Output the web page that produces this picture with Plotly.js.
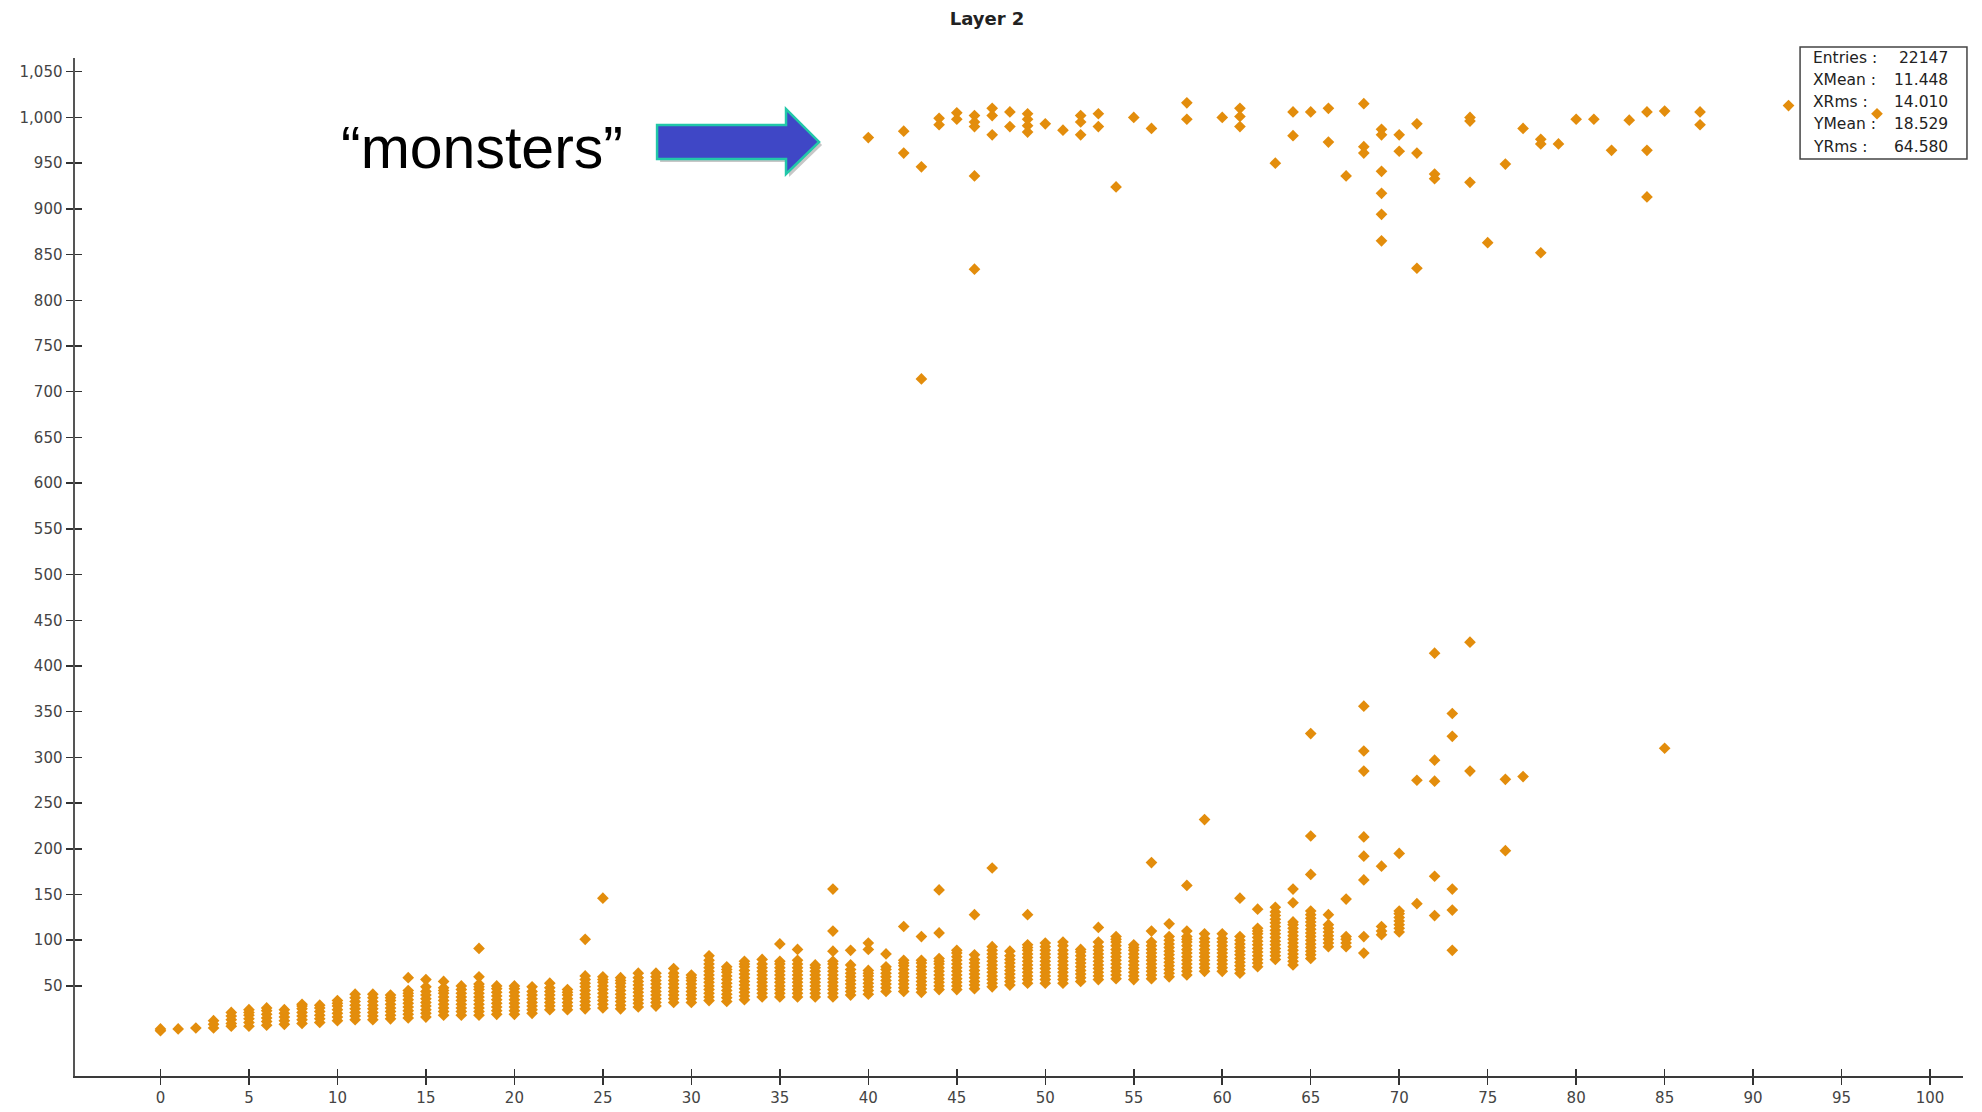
<!DOCTYPE html>
<html>
<head>
<meta charset="utf-8">
<script src="https://cdn.plot.ly/plotly-3.0.1.min.js"></script>
<style>
  html, body { margin: 0; padding: 0; background: #ffffff; }
  #chart { width: 1982px; height: 1112px; }
</style>
</head>
<body>
<div id="chart"></div>
<script>
// Layer 2 hits: channel number (x) against recorded amplitude (y).

// Main band: one list of amplitudes per channel.
const bandChannels = [0,1,2,3,4,5,6,7,8,9,10,11,12,13,14,15,16,17,18,19,20,21,22,23,24,25,26,27,28,29,
  30,31,32,33,34,35,36,37,38,39,40,41,42,43,44,45,46,47,48,49,50,51,52,53,54,55,56,57,58,59,
  60,61,62,63,64,65,66,67,68,69,70,71,72,73,74,76,77,85];
const bandAmplitudes = [
  [1,3],[3],[4],[4,8,12],[6,9,13,17,21],[6,10,14,18,21,24],[7,11,15,19,23,26],[8,12,16,20,24],
  [9,13,17,21,25,28,30],[10,14,18,22,26,29],[12,16,20,24,28,31,34],[13,17,21,25,29,33,37,41],
  [13,17,21,25,29,33,37,41],[14,18,22,26,30,34,37,40],[15,19,23,27,31,35,39,42,45,59],
  [16,20,24,28,32,36,40,44,49,57],[18,22,26,30,34,38,42,45,48,55],[18,22,26,30,34,38,42,46,50],
  [18,22,26,30,34,38,42,46,49,52,60,91],[19,23,27,31,35,39,43,47,50],[19,23,27,31,35,39,43,47,50],
  [20,24,28,32,36,40,44,49],[24,28,32,36,40,44,48,53],[24,28,32,36,40,43,46],
  [25,29,33,37,41,45,49,53,57,61,101],[26,30,34,38,42,46,50,54,57,60,146],
  [25,29,33,37,41,45,49,53,56,59],[27,31,35,39,43,47,51,55,59,64],[28,32,36,40,44,48,52,56,60,64],
  [32,36,40,44,48,52,56,60,64,69],[32,36,40,44,48,52,56,59,62],
  [34,38,42,46,50,54,58,62,66,70,74,78,83],[33,37,41,45,49,53,57,61,65,68,71],
  [35,39,43,47,51,55,59,63,67,71,74,77],[38,42,46,50,54,58,62,66,70,74,79],
  [38,42,46,50,54,58,62,66,70,74,77,96],[38,42,46,50,54,58,62,66,70,74,78,90],
  [38,42,46,50,54,58,62,66,70,73],[38,42,46,50,54,58,62,66,70,74,77,88,110,156],
  [40,44,48,52,56,60,64,68,73,89],[41,45,49,53,57,61,64,67,90,97],[44,48,52,56,60,64,68,71,85],
  [44,48,52,56,60,64,68,72,75,78,115],[43,47,51,55,59,63,67,71,75,78,104],
  [46,50,54,58,62,66,70,74,77,80,108,155],[46,50,54,58,62,66,70,74,78,82,86,89],
  [47,51,55,59,63,67,71,75,79,84,128],[49,53,57,61,65,69,73,77,81,85,89,93,179],
  [51,55,59,63,67,71,75,79,83,88],[53,57,61,65,69,73,77,81,85,89,92,95,128],
  [53,57,61,65,69,73,77,81,85,89,93,97],[53,57,61,65,69,73,77,81,85,89,94,98],
  [55,59,63,67,71,75,79,83,87,90],[57,61,65,69,73,77,81,85,89,93,98,114],
  [58,62,66,70,74,78,82,86,90,94,98,101,104],[57,61,65,69,73,77,81,85,89,92,95],
  [58,62,66,70,74,78,82,86,90,94,98,110,185],[60,64,68,72,76,80,84,88,92,96,100,104,118],
  [62,66,70,74,78,82,86,90,94,98,101,104,110,160],[66,70,74,78,82,86,90,94,98,102,107,232],
  [66,70,74,78,82,86,90,94,98,102,107],[64,68,72,76,80,84,88,92,96,100,104,146],
  [71,75,79,83,87,91,95,99,103,107,110,113,134],
  [79,83,87,91,95,99,103,107,111,115,119,123,127,131,136],
  [73,77,81,85,89,93,97,101,105,109,113,117,120,141,156],
  [80,84,88,92,96,100,104,108,112,116,120,124,128,132,172,214,326],
  [93,97,101,105,109,113,117,128],[93,97,101,104,145],[86,104,166,192,213,285,307,356],
  [106,110,115,181],[109,113,117,121,125,129,132,195],[140,275],[127,170,274,297,414],
  [89,133,156,323,348],[285,426],[198,276],[279],[310]
];

// Saturated hits near the top of the range.
const monsterChannels = [40,42,43,44,45,46,47,48,49,50,51,52,53,54,55,56,58,60,61,63,64,65,66,67,68,
  69,70,71,72,74,75,76,77,78,79,80,81,82,83,84,85,87,92,97];
const monsterAmplitudes = [
  [978],[985,961],[946,714],[999,992],[1005,998],[1002,995,990,936,834],[1010,1002,981],[1006,990],
  [1004,998,991,984],[993],[986],[1002,995,981],[1004,990],[924],[1000],[988],[1016,998],[1000],
  [1010,1001,990],[950],[1006,980],[1006],[1010,973],[936],[1015,968,961],
  [987,981,941,917,894,865],[981,963],[993,961,835],[938,933],[1000,996,929],[863],[949],[988],
  [976,971,852],[971],[998],[998],[964],[997],[1006,964,913],[1007],[1006,992],[1013],[1004]
];

const statLabels = ['Entries :', 'XMean :', 'XRms :', 'YMean :', 'YRms :'];
const statValues = ['22147', '11.448', '14.010', '18.529', '64.580'];

const xTicks = [0,5,10,15,20,25,30,35,40,45,50,55,60,65,70,75,80,85,90,95,100];
const yTicks = [50,100,150,200,250,300,350,400,450,500,550,600,650,700,750,800,850,900,950,1000,1050];

function flatten(channels, amplitudes) {
  const xs = [], ys = [];
  channels.forEach((c, i) => amplitudes[i].forEach(v => { xs.push(c); ys.push(v); }));
  return { xs, ys };
}
const band = flatten(bandChannels, bandAmplitudes);
const monsters = flatten(monsterChannels, monsterAmplitudes);

const markerStyle = { symbol: 'diamond', size: 9, color: '#E38D0C', line: { width: 0 } };

const traces = [
  { type: 'scatter', mode: 'markers', x: band.xs.concat(monsters.xs), y: band.ys.concat(monsters.ys),
    marker: markerStyle, hoverinfo: 'x+y', showlegend: false },
  // carrier for the inward half of the tick marks
  { type: 'scatter', mode: 'markers', x: [], y: [], xaxis: 'x2', yaxis: 'y2', showlegend: false }
];

const xRange = [-4.83, 101.86];
const yRange = [-48.5, 1065];
const tickFont = { family: 'DejaVu Sans, Verdana, sans-serif', size: 15, color: '#444444' };

const axisBase = {
  showgrid: false, zeroline: false, ticklen: 7, tickwidth: 1.5, tickcolor: '#333333', fixedrange: true
};

// Stats box text (labels left-aligned, numbers right-aligned)
const lineY = [1.0000, 0.9784, 0.9568, 0.9352, 0.9126];
const statFont = { family: 'DejaVu Sans, Verdana, sans-serif', size: 15.5, color: '#222222' };
const annotations = [];
statLabels.forEach((t, i) => {
  annotations.push({ xref: 'paper', yref: 'paper', x: 0.9195, y: lineY[i], xanchor: 'left', yanchor: 'middle',
    text: t, showarrow: false, font: statFont });
  annotations.push({ xref: 'paper', yref: 'paper', x: 0.9931, y: lineY[i], xanchor: 'right', yanchor: 'middle',
    text: statValues[i], showarrow: false, font: statFont });
});
annotations.push({ xref: 'paper', yref: 'paper', x: 0.2156, y: 0.9116, xanchor: 'center', yanchor: 'middle',
  text: '\u201Cmonsters\u201D', showarrow: false,
  font: { family: 'Liberation Sans, Arial, sans-serif', size: 59, color: '#000000' } });

const arrowPath = 'M 0.3083 0.9342 L 0.3766 0.9342 L 0.3766 0.9499 L 0.3941 0.9175 L 0.3766 0.8861 L 0.3766 0.9008 L 0.3083 0.9008 Z';
const shadowPath = 'M 0.3099 0.9313 L 0.3782 0.9313 L 0.3782 0.9470 L 0.3957 0.9146 L 0.3782 0.8832 L 0.3782 0.8979 L 0.3099 0.8979 Z';

const layout = {
  width: 1982, height: 1112,
  margin: { l: 75, r: 19, t: 58, b: 36, pad: 0 },
  paper_bgcolor: '#ffffff', plot_bgcolor: '#ffffff',
  showlegend: false,
  title: { text: '<b>Layer 2</b>', xref: 'container', yref: 'container', x: 0.498, y: 0.983,
    xanchor: 'center', yanchor: 'middle',
    font: { family: 'DejaVu Sans, Verdana, sans-serif', size: 18, color: '#222222' } },
  xaxis: Object.assign({}, axisBase, { range: xRange, tickmode: 'array', tickvals: xTicks, ticks: 'outside',
    showline: true, linecolor: '#3a3a3a', linewidth: 2, tickfont: tickFont }),
  yaxis: Object.assign({}, axisBase, { range: yRange, tickmode: 'array', tickvals: yTicks, tickformat: ',',
    ticks: 'outside', showline: true, linecolor: '#555555', linewidth: 2.5, tickfont: tickFont }),
  xaxis2: Object.assign({}, axisBase, { range: xRange, overlaying: 'x', anchor: 'y2', side: 'bottom',
    tickmode: 'array', tickvals: xTicks, ticks: 'inside', showticklabels: false, showline: false }),
  yaxis2: Object.assign({}, axisBase, { range: yRange, overlaying: 'y', anchor: 'x2', side: 'left',
    tickmode: 'array', tickvals: yTicks, ticks: 'inside', showticklabels: false, showline: false }),
  shapes: [
    { type: 'rect', xref: 'paper', yref: 'paper', x0: 0.9137, x1: 1.0021, y0: 0.9008, y1: 1.0108,
      line: { color: '#444444', width: 1.5 }, fillcolor: 'rgba(255,255,255,0)', layer: 'below' },
    { type: 'path', xref: 'paper', yref: 'paper', path: shadowPath,
      fillcolor: 'rgba(0,0,0,0.22)', line: { width: 0 } },
    { type: 'path', xref: 'paper', yref: 'paper', path: arrowPath,
      fillcolor: '#3F47C6', line: { color: '#22C7A9', width: 2.5 } }
  ],
  annotations: annotations
};

Plotly.newPlot('chart', traces, layout, { displayModeBar: false, staticPlot: true });
</script>
</body>
</html>
